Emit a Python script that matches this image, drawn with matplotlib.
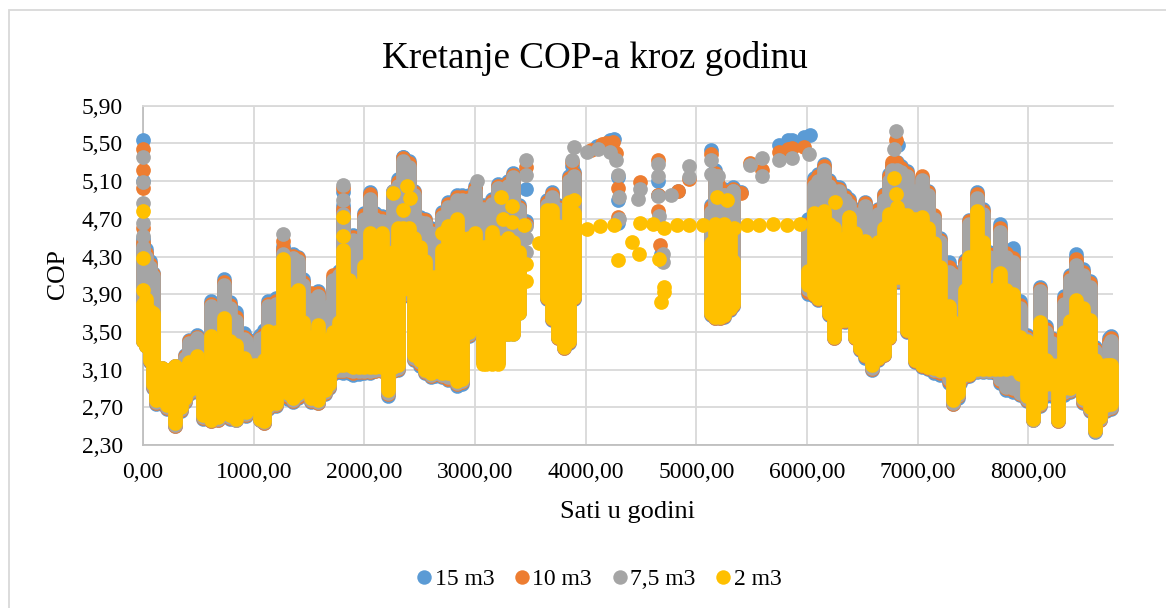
import matplotlib
matplotlib.use("Agg")
import matplotlib.pyplot as plt
from matplotlib.lines import Line2D
from matplotlib.patches import Rectangle

plt.rcParams["font.family"] = ["Liberation Serif", "DejaVu Serif"]

SERIES = ["15 m3", "10 m3", "7,5 m3", "2 m3"]
COLORS = ["#5B9BD5", "#ED7D31", "#A5A5A5", "#FFC000"]

X_TICKS = [0, 1000, 2000, 3000, 4000, 5000, 6000, 7000, 8000]
Y_TICKS = [2.3, 2.7, 3.1, 3.5, 3.9, 4.3, 4.7, 5.1, 5.5, 5.9]

# hours where the dense columns of points sit
HOURS = [
    0, 30, 60, 90, 120, 170, 220, 290, 340, 380,
    420, 490, 540, 610, 680, 735, 790, 840, 910, 935,
    1010, 1060, 1090, 1130, 1200, 1265, 1310, 1355, 1400, 1450,
    1520, 1580, 1640, 1680, 1720, 1770, 1810, 1860, 1900, 1950,
    2000, 2050, 2100, 2160, 2213, 2260, 2300, 2350, 2400, 2450,
    2500, 2550, 2600, 2640, 2700, 2760, 2800, 2840, 2880, 2950,
    3000, 3070, 3100, 3150, 3210, 3260, 3300, 3345, 3400, 3650,
    3700, 3750, 3800, 3850, 3890, 5130, 5170, 5210, 5250, 5300,
    5335, 6010, 6060, 6100, 6150, 6200, 6240, 6290, 6340, 6376,
    6430, 6480, 6527, 6587, 6640, 6692, 6740, 6770, 6813, 6850,
    6903, 6978, 7038, 7090, 7144, 7200, 7280, 7318, 7360, 7385,
    7430, 7460, 7535, 7590, 7640, 7700, 7746, 7800, 7860, 7926,
    7987, 8045, 8105, 8160, 8212, 8264, 8318, 8372, 8432, 8490,
    8560, 8604, 8650, 8700, 8724, 8745,
]

# top of each column
BLUE_HI = [
    4.50, 4.38, 4.25, 4.12, 3.10, 3.12, 3.10, 3.14, 3.10, 3.25,
    3.41, 3.47, 3.40, 3.83, 3.76, 4.06, 3.82, 3.71, 3.49, 3.44,
    3.41, 3.47, 3.52, 3.83, 3.86, 4.41, 4.30, 4.33, 4.30, 4.06,
    3.88, 3.93, 3.70, 3.86, 4.06, 4.15, 4.85, 4.38, 4.53, 4.50,
    4.76, 4.98, 4.76, 4.73, 4.70, 5.00, 5.12, 5.36, 5.31, 5.00,
    4.72, 4.70, 4.60, 4.57, 4.77, 4.88, 4.80, 4.95, 4.95, 4.95,
    5.05, 4.85, 4.83, 4.91, 5.07, 4.90, 5.10, 5.19, 4.85, 4.90,
    4.98, 4.85, 4.84, 5.15, 5.20, 4.85, 5.22, 5.03, 5.02, 4.98,
    5.04, 4.70, 5.13, 5.18, 5.28, 5.11, 5.05, 5.04, 4.95, 4.91,
    4.80, 4.75, 4.88, 4.70, 4.80, 4.96, 5.18, 5.28, 5.30, 5.26,
    5.21, 5.06, 5.13, 5.00, 4.72, 4.50, 4.24, 4.15, 3.68, 3.70,
    4.26, 4.69, 4.98, 4.80, 4.35, 4.32, 4.65, 4.37, 4.39, 3.83,
    3.47, 3.25, 3.98, 3.56, 3.43, 3.35, 3.88, 4.10, 4.33, 4.17,
    4.04, 3.34, 3.15, 3.24, 3.43, 3.46,
]
ORANGE_HI = [
    4.45, 4.34, 4.22, 4.11, 3.10, 3.12, 3.10, 3.14, 3.10, 3.24,
    3.40, 3.45, 3.37, 3.80, 3.73, 4.03, 3.79, 3.66, 3.45, 3.42,
    3.35, 3.44, 3.48, 3.80, 3.83, 4.38, 4.27, 4.31, 4.28, 4.03,
    3.91, 3.91, 3.64, 3.82, 4.10, 4.13, 4.80, 4.34, 4.51, 4.48,
    4.74, 4.96, 4.74, 4.71, 4.68, 4.98, 5.09, 5.34, 5.29, 4.98,
    4.70, 4.69, 4.58, 4.55, 4.75, 4.86, 4.78, 4.93, 4.93, 4.93,
    5.03, 4.83, 4.81, 4.89, 5.05, 4.88, 5.08, 5.17, 4.83, 4.88,
    4.96, 4.83, 4.82, 5.13, 5.18, 4.82, 5.19, 5.00, 5.00, 4.94,
    5.02, 4.64, 5.10, 5.15, 5.26, 5.09, 5.03, 5.02, 4.93, 4.89,
    4.78, 4.73, 4.87, 4.68, 4.79, 4.95, 5.15, 5.30, 5.27, 5.24,
    5.19, 5.04, 5.15, 4.98, 4.74, 4.48, 4.19, 4.13, 3.65, 3.66,
    4.24, 4.68, 4.96, 4.78, 4.33, 4.29, 4.60, 4.34, 4.28, 3.79,
    3.45, 3.23, 3.96, 3.53, 3.42, 3.33, 3.85, 4.08, 4.27, 4.14,
    4.02, 3.32, 3.15, 3.22, 3.40, 3.43,
]
GRAY_HI = [
    4.40, 4.30, 4.19, 4.09, 3.10, 3.12, 3.10, 3.14, 3.10, 3.22,
    3.38, 3.43, 3.35, 3.77, 3.70, 4.00, 3.75, 3.62, 3.42, 3.40,
    3.33, 3.42, 3.45, 3.77, 3.80, 4.33, 4.25, 4.28, 4.25, 4.00,
    3.84, 3.88, 3.60, 3.78, 4.05, 4.10, 4.75, 4.30, 4.48, 4.45,
    4.70, 4.91, 4.70, 4.68, 4.65, 4.95, 5.05, 5.31, 5.25, 4.95,
    4.67, 4.66, 4.55, 4.51, 4.72, 4.83, 4.75, 4.90, 4.90, 4.90,
    5.00, 4.80, 4.78, 4.86, 5.03, 4.85, 5.05, 5.14, 4.80, 4.85,
    4.93, 4.80, 4.79, 5.10, 5.15, 4.77, 5.15, 4.95, 4.95, 4.90,
    5.00, 4.60, 5.05, 5.10, 5.22, 5.05, 5.00, 4.99, 4.90, 4.85,
    4.75, 4.70, 4.84, 4.65, 4.75, 4.90, 5.10, 5.22, 5.22, 5.20,
    5.15, 5.00, 5.11, 4.95, 4.70, 4.45, 4.14, 4.10, 3.62, 3.63,
    4.20, 4.65, 4.92, 4.75, 4.30, 4.25, 4.56, 4.30, 4.24, 3.75,
    3.42, 3.20, 3.93, 3.50, 3.38, 3.30, 3.80, 4.05, 4.21, 4.10,
    3.98, 3.30, 3.15, 3.20, 3.36, 3.40,
]
YELLOW_HI = [
    3.80, 3.85, 3.72, 3.70, 3.08, 3.12, 3.10, 3.14, 3.08, 3.12,
    3.18, 3.24, 3.14, 3.46, 3.35, 3.65, 3.40, 3.36, 3.22, 3.18,
    3.15, 3.15, 3.20, 3.51, 3.50, 4.27, 3.90, 3.90, 3.94, 3.60,
    3.45, 3.57, 3.40, 3.42, 3.50, 3.60, 4.37, 4.05, 3.99, 4.00,
    4.20, 4.55, 4.40, 4.55, 4.30, 4.35, 4.60, 4.60, 4.60, 4.50,
    4.40, 4.25, 4.08, 4.08, 4.37, 4.60, 4.40, 4.70, 4.50, 4.50,
    4.55, 4.40, 4.40, 4.56, 4.45, 4.45, 4.50, 4.45, 4.35, 4.79,
    4.79, 4.62, 4.50, 4.88, 4.76, 4.44, 4.65, 4.33, 4.65, 4.56,
    4.25, 4.15, 4.76, 4.70, 4.78, 4.65, 4.60, 4.45, 4.50, 4.70,
    4.55, 4.35, 4.46, 4.25, 4.45, 4.60, 4.75, 4.75, 4.83, 4.75,
    4.74, 4.70, 4.72, 4.60, 4.44, 4.19, 3.77, 3.60, 3.30, 3.31,
    3.94, 4.30, 4.78, 4.45, 3.80, 3.95, 4.12, 3.94, 3.90, 3.45,
    3.40, 3.13, 3.61, 3.20, 3.15, 3.15, 3.50, 3.62, 3.84, 3.75,
    3.63, 3.20, 3.15, 3.15, 3.15, 3.15,
]

# bottom of each column
BLUE_LO = [
    3.40, 3.35, 3.18, 2.90, 2.74, 2.74, 2.68, 2.50, 2.66, 2.76,
    2.84, 2.86, 2.58, 2.55, 2.56, 2.88, 2.58, 2.56, 2.65, 2.61,
    2.68, 2.56, 2.53, 2.68, 2.71, 3.06, 2.79, 2.76, 2.80, 3.04,
    2.76, 2.75, 2.84, 2.91, 3.05, 3.07, 3.06, 3.06, 3.04, 3.05,
    3.06, 3.06, 3.08, 3.08, 2.82, 3.08, 3.10, 3.88, 3.88, 3.20,
    3.14, 3.06, 3.02, 3.03, 3.02, 2.99, 3.00, 2.93, 2.95, 3.46,
    3.51, 3.18, 3.18, 3.18, 3.18, 3.48, 3.48, 3.48, 3.70, 3.85,
    3.63, 3.43, 3.33, 3.38, 3.85, 3.68, 3.65, 3.65, 3.66, 3.73,
    3.78, 3.90, 3.88, 3.84, 3.88, 3.68, 3.44, 3.60, 3.61, 3.68,
    3.43, 3.31, 3.22, 3.10, 3.20, 3.25, 3.43, 4.03, 4.03, 4.03,
    3.50, 3.18, 3.13, 3.11, 3.06, 3.04, 2.96, 2.73, 2.80, 2.96,
    3.02, 3.03, 3.07, 3.07, 3.07, 3.06, 2.96, 2.88, 2.86, 2.83,
    2.77, 2.56, 2.71, 2.82, 2.82, 2.55, 2.83, 2.86, 2.90, 2.75,
    2.66, 2.44, 2.56, 2.66, 2.70, 2.68,
]
ORANGE_LO = [
    3.40, 3.35, 3.19, 2.92, 2.75, 2.75, 2.69, 2.50, 2.67, 2.77,
    2.85, 2.87, 2.59, 2.55, 2.57, 2.89, 2.59, 2.56, 2.66, 2.62,
    2.69, 2.56, 2.53, 2.69, 2.72, 3.07, 2.81, 2.77, 2.81, 3.05,
    2.77, 2.75, 2.85, 2.92, 3.06, 3.08, 3.08, 3.08, 3.06, 3.07,
    3.07, 3.07, 3.09, 3.09, 2.84, 3.09, 3.11, 3.89, 3.89, 3.21,
    3.16, 3.07, 3.03, 3.05, 3.03, 3.00, 3.01, 2.95, 2.97, 3.47,
    3.52, 3.19, 3.19, 3.19, 3.19, 3.49, 3.49, 3.49, 3.71, 3.86,
    3.64, 3.44, 3.33, 3.39, 3.86, 3.69, 3.65, 3.65, 3.67, 3.74,
    3.79, 3.92, 3.89, 3.85, 3.89, 3.69, 3.44, 3.61, 3.62, 3.69,
    3.44, 3.32, 3.24, 3.11, 3.21, 3.26, 3.44, 4.04, 4.04, 4.04,
    3.51, 3.19, 3.14, 3.12, 3.08, 3.06, 2.98, 2.74, 2.82, 2.98,
    3.03, 3.04, 3.08, 3.08, 3.08, 3.07, 2.98, 2.90, 2.88, 2.84,
    2.78, 2.56, 2.72, 2.84, 2.84, 2.55, 2.85, 2.87, 2.91, 2.76,
    2.67, 2.45, 2.57, 2.67, 2.71, 2.69,
]
GRAY_LO = [
    3.40, 3.35, 3.20, 2.93, 2.76, 2.76, 2.70, 2.51, 2.68, 2.78,
    2.86, 2.88, 2.60, 2.56, 2.58, 2.90, 2.60, 2.57, 2.67, 2.63,
    2.70, 2.57, 2.54, 2.70, 2.73, 3.08, 2.83, 2.78, 2.83, 3.06,
    2.78, 2.76, 2.86, 2.93, 3.08, 3.10, 3.10, 3.10, 3.08, 3.08,
    3.08, 3.08, 3.10, 3.10, 2.85, 3.10, 3.12, 3.90, 3.90, 3.22,
    3.18, 3.08, 3.04, 3.06, 3.04, 3.02, 3.02, 2.96, 2.98, 3.48,
    3.53, 3.20, 3.20, 3.20, 3.20, 3.50, 3.50, 3.50, 3.72, 3.87,
    3.65, 3.45, 3.34, 3.40, 3.87, 3.70, 3.66, 3.66, 3.68, 3.75,
    3.80, 3.95, 3.90, 3.86, 3.90, 3.70, 3.45, 3.62, 3.63, 3.70,
    3.45, 3.33, 3.25, 3.12, 3.22, 3.27, 3.45, 4.05, 4.05, 4.05,
    3.52, 3.20, 3.15, 3.13, 3.10, 3.08, 3.00, 2.75, 2.83, 3.00,
    3.04, 3.05, 3.09, 3.09, 3.09, 3.08, 3.00, 2.92, 2.90, 2.85,
    2.79, 2.57, 2.73, 2.85, 2.85, 2.56, 2.86, 2.88, 2.92, 2.78,
    2.68, 2.45, 2.58, 2.68, 2.72, 2.70,
]
YELLOW_LO = [
    3.40, 3.35, 3.20, 2.95, 2.78, 2.78, 2.72, 2.53, 2.70, 2.80,
    2.88, 2.90, 2.62, 2.57, 2.60, 2.92, 2.62, 2.58, 2.68, 2.65,
    2.72, 2.58, 2.55, 2.72, 2.75, 3.10, 2.85, 2.80, 2.85, 3.08,
    2.80, 2.78, 2.88, 2.95, 3.12, 3.15, 3.15, 3.15, 3.13, 3.13,
    3.13, 3.13, 3.13, 3.13, 2.88, 3.13, 3.15, 3.95, 3.95, 3.25,
    3.20, 3.10, 3.06, 3.08, 3.06, 3.06, 3.05, 2.98, 3.00, 3.50,
    3.55, 3.16, 3.16, 3.16, 3.16, 3.48, 3.48, 3.48, 3.70, 3.87,
    3.65, 3.45, 3.34, 3.40, 3.87, 3.70, 3.66, 3.66, 3.68, 3.75,
    3.80, 4.00, 3.90, 3.86, 3.90, 3.70, 3.45, 3.62, 3.63, 3.70,
    3.45, 3.33, 3.25, 3.15, 3.22, 3.27, 3.45, 4.08, 4.08, 4.08,
    3.52, 3.20, 3.15, 3.13, 3.12, 3.10, 3.08, 2.78, 2.85, 3.02,
    3.05, 3.05, 3.11, 3.11, 3.11, 3.11, 3.11, 3.11, 3.12, 3.05,
    2.82, 2.58, 2.75, 2.95, 2.95, 2.57, 2.90, 2.90, 2.95, 2.80,
    2.70, 2.46, 2.60, 2.72, 2.78, 2.74,
]

# single points that stand clear of the columns
BLUE_PT_H = [0, 0, 0, 1810, 2350, 3460, 3460, 3875, 4100, 4216, 4260, 4291, 4291, 4291, 4652, 4652, 4652, 4680,
             4832, 5132, 5402, 5748, 5832, 5865, 5970, 6030, 6800, 6820]
BLUE_PT_V = [5.54, 5.10, 4.40, 4.98, 5.36, 5.02, 4.68, 5.26, 5.47, 5.54, 5.55, 5.14, 4.90, 4.66, 5.10, 4.95, 4.66, 4.33,
             4.99, 5.43, 4.98, 5.48, 5.54, 5.54, 5.57, 5.59, 5.30, 5.48]
ORANGE_PT_H = [0, 0, 0, 0, 1265, 1810, 2050, 3340, 3460, 3460, 3875, 4050, 4150, 4180, 4216, 4250, 4276, 4291,
               4291, 4492, 4652, 4652, 4652, 4670, 4832, 4937, 5132, 5150, 5192, 5402, 5484, 5592, 5748,
               5832, 5865, 5970, 6805, 6800]
ORANGE_PT_V = [5.44, 5.22, 5.03, 4.60, 4.46, 5.03, 4.85, 5.02, 5.25, 4.65, 5.30, 5.43, 5.49, 5.50, 5.50, 5.52, 5.40, 5.03,
               4.72, 5.09, 5.32, 4.95, 4.78, 4.42, 4.99, 5.12, 5.39, 5.18, 5.07, 4.97, 5.29, 5.22, 5.41,
               5.44, 5.45, 5.46, 5.54, 5.30]
GRAY_PT_H = [0, 0, 0, 0, 0, 0, 1265, 1810, 1810, 2260, 3020, 3460, 3460, 3460, 3460, 3460, 3880, 3895, 4012,
             4111, 4216, 4276, 4291, 4297, 4297, 4471, 4492, 4652, 4652, 4652, 4662, 4700, 4700, 4772,
             4937, 4937, 5132, 5132, 5192, 5252, 5327, 5484, 5592, 5592, 5748, 5865, 6015, 6807, 6785]
GRAY_PT_V = [5.36, 5.09, 4.87, 4.66, 4.52, 4.38, 4.54, 5.06, 4.90, 5.00, 5.10, 5.32, 5.17, 4.62, 4.50, 4.35, 5.32,
             5.46, 5.41, 5.44, 5.41, 5.32, 5.17, 4.93, 4.70, 4.91, 5.02, 5.28, 5.15, 4.94, 4.73, 4.33,
             4.24, 4.95, 5.26, 5.14, 5.32, 5.18, 5.15, 4.95, 5.00, 5.27, 5.34, 5.15, 5.32, 5.34, 5.39,
             5.63, 5.44]
YELLOW_PT_H = [0, 0, 0, 1810, 1810, 2260, 2385, 2410, 2350, 2700, 2760, 2790, 3231, 3255, 3336, 3330, 3441,
               3460, 3460, 3580, 3890, 3880, 3830, 4012, 4132, 4252, 4291, 4414, 4486, 4492, 4612, 4661,
               4676, 4712, 4709, 4705, 4823, 4931, 5057, 5187, 5277, 5342, 5453, 5568, 5694, 5820, 5934,
               6256, 6376, 6783, 6804]
YELLOW_PT_V = [4.78, 4.28, 3.94, 4.72, 4.52, 4.97, 5.05, 4.92, 4.79, 4.55, 4.62, 4.55, 4.93, 4.70, 4.84, 4.67,
               4.63, 4.22, 4.04, 4.44, 4.90, 4.76, 4.62, 4.59, 4.62, 4.63, 4.26, 4.45, 4.33, 4.66, 4.65, 4.27,
               3.82, 4.60, 3.98, 3.92, 4.63, 4.63, 4.63, 4.93, 4.90, 4.60, 4.63, 4.63, 4.64, 4.63, 4.64,
               4.88, 4.72, 5.13, 4.96]

series_data = [
    (BLUE_HI, BLUE_LO, BLUE_PT_H, BLUE_PT_V),
    (ORANGE_HI, ORANGE_LO, ORANGE_PT_H, ORANGE_PT_V),
    (GRAY_HI, GRAY_LO, GRAY_PT_H, GRAY_PT_V),
    (YELLOW_HI, YELLOW_LO, YELLOW_PT_H, YELLOW_PT_V),
]

W, H = 1166, 608
fig = plt.figure(figsize=(W / 100, H / 100), dpi=100)
# chart area frame: top and left only, it runs off the picture on the other two sides
fig.add_artist(Rectangle((8.5 / W, -0.01), 1.01, 1 - 10 / H + 0.01, transform=fig.transFigure,
                         facecolor="white", edgecolor="#D9D9D9", linewidth=1.3, zorder=-1))

ax = fig.add_axes([143 / W, 1 - 445 / H, (1112.5 - 143) / W, (445 - 105.7) / H])
ax.set_facecolor("none")

MARKER = 10.6  # points

for color, (hi, lo, pt_h, pt_v) in zip(COLORS, series_data):
    ax.vlines(HOURS, lo, hi, colors=color, linewidth=MARKER, capstyle="round", clip_on=False, zorder=3)
    ax.scatter(pt_h, pt_v, s=MARKER ** 2, color=color, linewidths=0, clip_on=False, zorder=3)

ax.set_xlim(0, 8760)
ax.set_ylim(2.3, 5.9)
ax.set_xticks(X_TICKS)
ax.set_xticklabels([f"{t:.2f}".replace(".", ",") for t in X_TICKS], fontsize=17)
ax.set_yticks(Y_TICKS)
ax.set_yticklabels([f"{t:.2f}".replace(".", ",") for t in Y_TICKS], fontsize=17)
ax.tick_params(axis="x", length=0, pad=12)
ax.tick_params(axis="y", length=0, pad=14.5)

ax.grid(True, color="#D9D9D9", linewidth=1.3, zorder=0)
ax.set_axisbelow(True)
ax.spines["right"].set_visible(False)
ax.spines["top"].set_color("#D9D9D9")
ax.spines["top"].set_linewidth(1.3)
for side in ["left", "bottom"]:
    ax.spines[side].set_color("#BFBFBF")
    ax.spines[side].set_linewidth(1.3)

fig.text(595 / W, 1 - 58 / H, "Kretanje COP-a kroz godinu", ha="center", va="center", fontsize=26.7)
fig.text(628 / W, 1 - 512 / H, "Sati u godini", ha="center", va="center", fontsize=19)
fig.text(58 / W, 1 - 274 / H, "COP", ha="center", va="center", rotation=90, fontsize=18.5)

handles = [Line2D([], [], linestyle="none", marker="o", markersize=10.4, color=c, markeredgewidth=0) for c in COLORS]
fig.legend(handles, SERIES, loc="center", bbox_to_anchor=(591 / W, 1 - 579 / H), ncol=4, frameon=False,
           fontsize=17, handletextpad=-0.55, columnspacing=0.17)

fig.savefig("out.png", dpi=100)
